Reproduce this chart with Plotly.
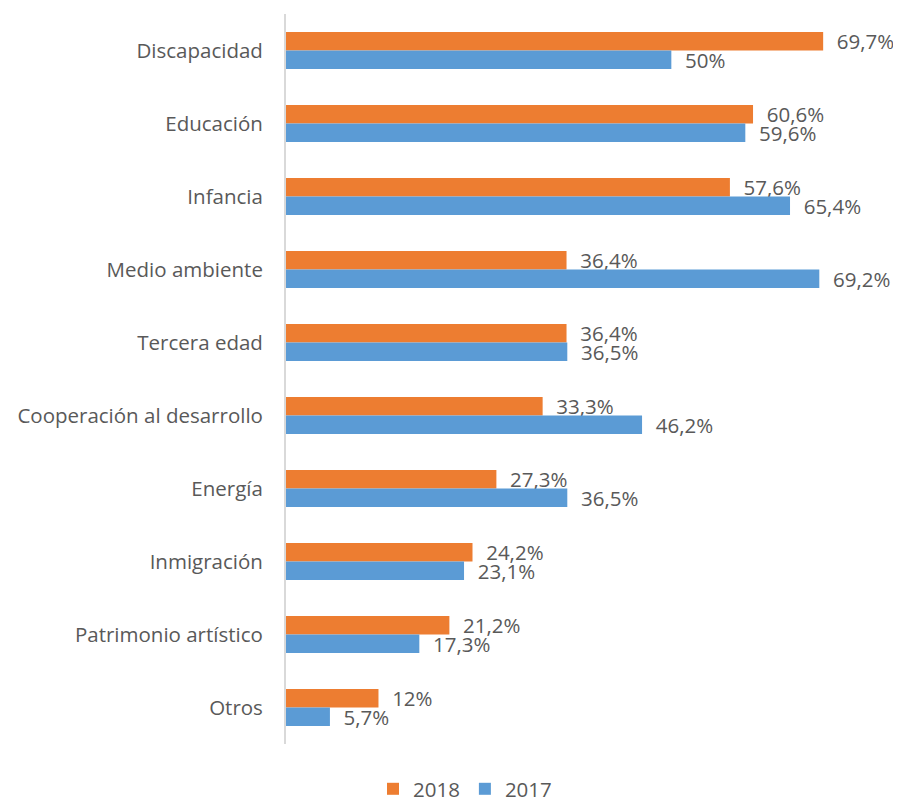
import plotly.graph_objects as go

# Datos del gráfico
categorias = [
    "Discapacidad", "Educación", "Infancia", "Medio ambiente", "Tercera edad",
    "Cooperación al desarrollo", "Energía", "Inmigración",
    "Patrimonio artístico", "Otros",
]
valores_2018 = [69.7, 60.6, 57.6, 36.4, 36.4, 33.3, 27.3, 24.2, 21.2, 12]
valores_2017 = [50, 59.6, 65.4, 69.2, 36.5, 46.2, 36.5, 23.1, 17.3, 5.7]

TEXTO = "#595959"
FUENTE = "Open Sans, Liberation Sans, sans-serif"
TAM = 20.5


def etiqueta(v):
    """Formato español: coma decimal, sin ',0'"""
    s = f"{v:.1f}".replace(".", ",")
    if s.endswith(",0"):
        s = s[:-2]
    return "\u00a0\u00a0" + s + "%"


fig = go.Figure()

fig.add_trace(go.Bar(
    y=categorias,
    x=valores_2018,
    name="2018",
    orientation="h",
    marker=dict(color="#ED7D31", line=dict(width=0)),
    text=[etiqueta(v) for v in valores_2018],
    textposition="outside",
    constraintext="none",
    cliponaxis=False,
    textfont=dict(size=TAM, color=TEXTO, family=FUENTE),
))

fig.add_trace(go.Bar(
    y=categorias,
    x=valores_2017,
    name="2017",
    orientation="h",
    marker=dict(color="#5B9BD5", line=dict(width=0)),
    text=[etiqueta(v) for v in valores_2017],
    textposition="outside",
    constraintext="none",
    cliponaxis=False,
    textfont=dict(size=TAM, color=TEXTO, family=FUENTE),
))

# la página deja 8 px de margen en el body: la figura ocupa el resto
fig.update_layout(
    width=893,
    height=797,
    margin=dict(l=278, r=0, t=6, b=61, autoexpand=False),
    barmode="group",
    bargap=0.49,
    bargroupgap=0,
    plot_bgcolor="white",
    paper_bgcolor="white",
    font=dict(family=FUENTE, size=TAM, color=TEXTO),
    showlegend=True,
    legend=dict(
        orientation="h",
        x=(365 - 278) / 615, xanchor="left",
        y=-0.0616, yanchor="middle",
        font=dict(size=TAM, color=TEXTO),
        traceorder="normal",
        itemwidth=30,
    ),
    xaxis=dict(
        range=[0, 79.8],
        visible=False,
        showgrid=False,
        zeroline=False,
    ),
    yaxis=dict(
        autorange="reversed",
        showline=True,
        linecolor="#d9d9d9",
        linewidth=2,
        showgrid=False,
        ticks="",
        ticklabelstandoff=17,
        tickfont=dict(size=TAM, color=TEXTO),
    ),
)

fig.write_html("out.html")
